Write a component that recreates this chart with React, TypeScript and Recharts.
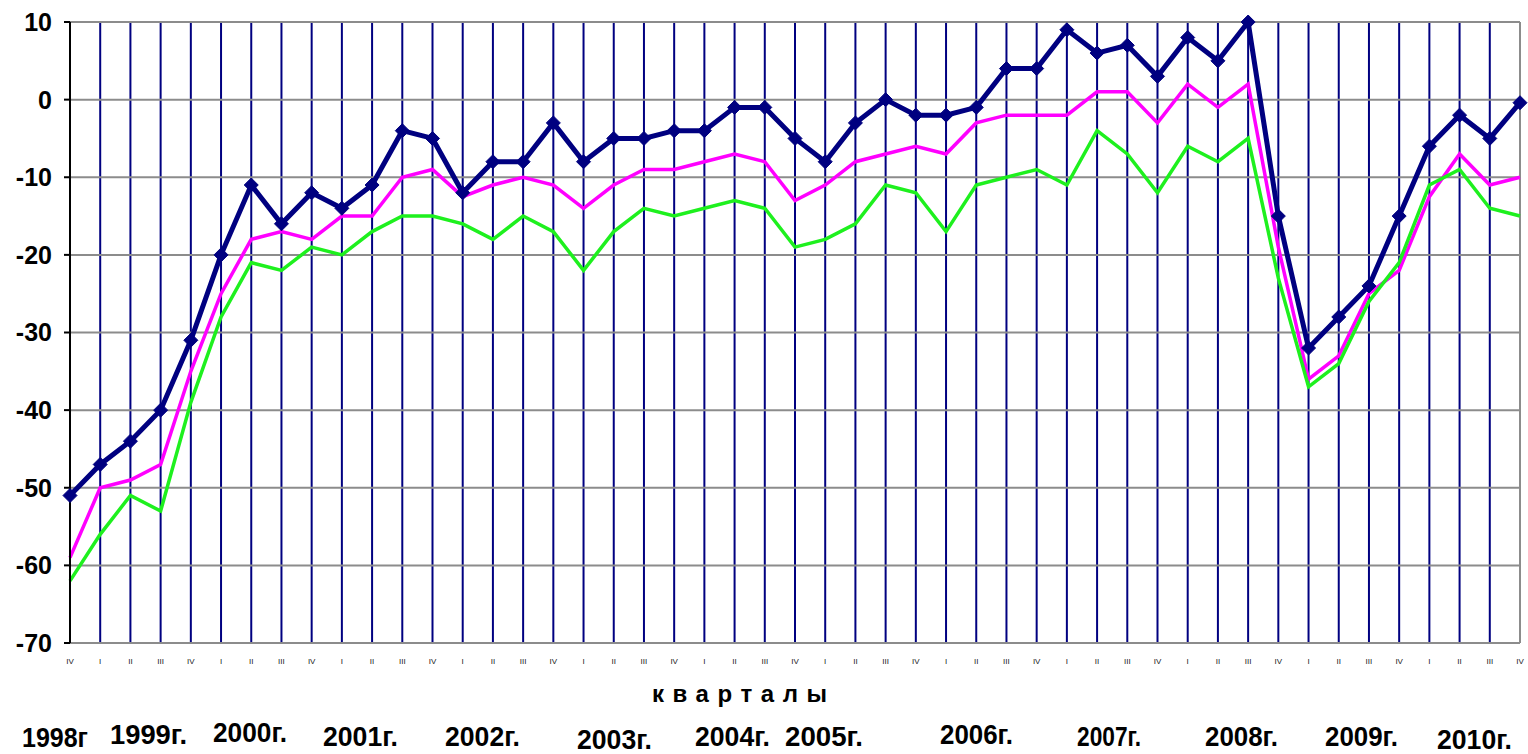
import { LineChart, Line, XAxis, YAxis, CartesianGrid, ReferenceLine } from 'recharts';

// quarter tick labels, 1998 IV .. 2010 IV
const quarters = [
  'IV',
  'I', 'II', 'III', 'IV',
  'I', 'II', 'III', 'IV',
  'I', 'II', 'III', 'IV',
  'I', 'II', 'III', 'IV',
  'I', 'II', 'III', 'IV',
  'I', 'II', 'III', 'IV',
  'I', 'II', 'III', 'IV',
  'I', 'II', 'III', 'IV',
  'I', 'II', 'III', 'IV',
  'I', 'II', 'III', 'IV',
  'I', 'II', 'III', 'IV',
  'I', 'II', 'III', 'IV',
];

const navySeries = [
  -51, -47, -44, -40, -31, -20, -11, -16, -12, -14, -11, -4, -5, -12, -8, -8, -3,
  -8, -5, -5, -4, -4, -1, -1, -5, -8, -3, 0, -2, -2, -1, 4, 4, 9, 6, 7, 3, 8, 5,
  10, -15, -32, -28, -24, -15, -6, -2, -5, -0.4,
];

const magentaSeries = [
  -59, -50, -49, -47, -35, -25, -18, -17, -18, -15, -15, -10, -9, -12.5, -11, -10,
  -11, -14, -11, -9, -9, -8, -7, -8, -13, -11, -8, -7, -6, -7, -3, -2, -2, -2, 1,
  1, -3, 2, -1, 2, -19, -36, -33, -25, -22, -12.5, -7, -11, -10,
];

const greenSeries = [
  -62, -56, -51, -53, -39, -28, -21, -22, -19, -20, -17, -15, -15, -16, -18, -15,
  -17, -22, -17, -14, -15, -14, -13, -14, -19, -18, -16, -11, -12, -17, -11, -10,
  -9, -11, -4, -7, -12, -6, -8, -5, -23, -37, -34, -26, -21, -11, -9, -14, -15,
];

const yTicks = [-70, -60, -50, -40, -30, -20, -10, 0, 10];

const yearLabels = [
  '1998г', '1999г.', '2000г.', '2001г.', '2002г.', '2003г.', '2004г.',
  '2005г.', '2006г.', '2007г.', '2008г.', '2009г.', '2010г.',
];

const axisTitle = 'кварталы';

// hand placed year captions under the axis: left x, baseline y, width
const yearLayout = [
  [22, 747, 66], [110, 744, 77], [213, 742, 74], [323, 746, 75], [445, 746, 75],
  [577, 749, 75], [695, 746, 75], [785, 746, 78], [940, 744, 73], [1077, 746, 64],
  [1205, 746, 73], [1325, 746, 73], [1437, 749, 75],
];

const data = quarters.map((q, i) => ({
  idx: i,
  q,
  navy: navySeries[i],
  magenta: magentaSeries[i],
  green: greenSeries[i],
}));

const NAVY = '#000080';
const boldFont = '"Liberation Sans", Arial, sans-serif';
const narrowFont = '"Liberation Sans Narrow", "Arial Narrow", "Liberation Sans", Arial, sans-serif';

function Diamond(props: any) {
  const { cx, cy } = props;
  if (cx == null || cy == null) return null;
  const r = 7;
  return (
    <polygon
      points={`${cx},${cy - r} ${cx + r},${cy} ${cx},${cy + r} ${cx - r},${cy}`}
      fill={NAVY}
      stroke={NAVY}
    />
  );
}

function QuarterTick(props: any) {
  const { x, y, payload } = props;
  return (
    <text x={x} y={y + 21} textAnchor="middle" fontSize={8} fontFamily={boldFont} fill="#222">
      {quarters[payload.value]}
    </text>
  );
}

export default function App() {
  return (
    <div style={{ position: 'absolute', left: 0, top: 0, width: 1528, height: 754, background: '#fff' }}>
      <LineChart
        width={1528}
        height={754}
        data={data}
        margin={{ top: 22, right: 8, bottom: 81, left: 10 }}
      >
        <CartesianGrid horizontal={false} vertical stroke={NAVY} strokeWidth={2} />
        <CartesianGrid horizontal vertical={false} stroke="#8c8c8c" strokeWidth={2} />
        <ReferenceLine x={quarters.length - 1} stroke="#8c8c8c" strokeWidth={2} />
        <XAxis
          dataKey="idx"
          type="category"
          interval={0}
          axisLine={false}
          tickLine={false}
          tickSize={0}
          tickMargin={0}
          height={30}
          padding={{ left: 0, right: 0 }}
          tick={<QuarterTick />}
        />
        <YAxis
          domain={[-70, 10]}
          ticks={yTicks}
          width={60}
          axisLine={{ stroke: '#000', strokeWidth: 2 }}
          tickLine={{ stroke: '#000', strokeWidth: 2 }}
          tickSize={6}
          tickMargin={12}
          tick={{ fill: '#000', fontSize: 25, fontWeight: 'bold', fontFamily: boldFont }}
        />
        <Line
          dataKey="magenta"
          stroke="#ff00ff"
          strokeWidth={3.5}
          dot={false}
          isAnimationActive={false}
        />
        <Line
          dataKey="green"
          stroke="#1ef01e"
          strokeWidth={3.5}
          dot={false}
          isAnimationActive={false}
        />
        <Line
          dataKey="navy"
          stroke={NAVY}
          strokeWidth={5}
          dot={<Diamond />}
          isAnimationActive={false}
        />
      </LineChart>
      <svg
        width={1528}
        height={754}
        style={{ position: 'absolute', left: 0, top: 0, pointerEvents: 'none' }}
      >
        <text
          x={652}
          y={702}
          textLength={175}
          lengthAdjust="spacing"
          fontSize={24}
          fontWeight="bold"
          fontFamily={boldFont}
          fill="#000"
        >
          {axisTitle}
        </text>
        {yearLabels.map((label, i) => (
          <text
            key={label}
            x={yearLayout[i][0]}
            y={yearLayout[i][1]}
            textLength={yearLayout[i][2]}
            lengthAdjust="spacingAndGlyphs"
            fontSize={27}
            fontWeight="bold"
            fontFamily={narrowFont}
            fill="#000"
          >
            {label}
          </text>
        ))}
      </svg>
    </div>
  );
}
